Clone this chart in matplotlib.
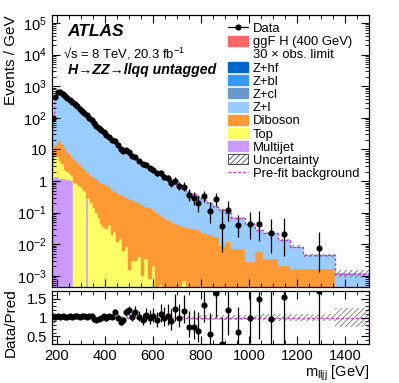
import numpy as np
import matplotlib
matplotlib.use("Agg")
import matplotlib.pyplot as plt
from matplotlib.patches import Patch
from matplotlib.lines import Line2D
from matplotlib.ticker import MultipleLocator, FixedLocator, FuncFormatter, LogLocator, NullFormatter

plt.rcParams['font.family'] = ['Liberation Sans', 'DejaVu Sans']
plt.rcParams['mathtext.fontset'] = 'custom'
plt.rcParams['mathtext.rm'] = 'Liberation Sans'
plt.rcParams['mathtext.it'] = 'Liberation Sans:italic'
plt.rcParams['mathtext.bf'] = 'Liberation Sans:bold'
plt.rcParams['hatch.linewidth'] = 0.5

# ---------------- data (events / GeV) ----------------
bin_edges = [180, 190, 200, 210, 220, 230, 240, 250, 260, 270, 280, 290, 300, 310, 320, 330,
             340, 350, 360, 370, 380, 390, 400, 412, 424, 436, 448, 460, 472, 484, 496, 508,
             520, 535, 550, 565, 580, 595, 610, 625, 640, 655, 670, 685, 700, 720, 740, 760,
             780, 800, 825, 850, 875, 900, 925, 985, 1025, 1060, 1120, 1170, 1225, 1360, 1500]

total_bkg = [92, 440, 630, 640, 560, 480, 410, 350, 300, 258,
             222, 190, 162, 138, 117, 99, 84, 71, 60, 50,
             42, 35, 29, 24, 20, 16.5, 13.7, 11.5, 9.7, 8.2,
             7.0, 6.0, 5.1, 4.3, 3.6, 3.05, 2.6, 2.2, 1.87, 1.6,
             1.36, 1.16, 0.99, 0.85, 0.70, 0.57, 0.47, 0.39, 0.32, 0.25,
             0.20, 0.16, 0.125, 0.10, 0.068, 0.045, 0.029, 0.023, 0.014, 0.0085,
             0.0045, 0.0012]

diboson = [4.0, 8.0, 11.0, 14.0, 11.5, 8.8, 6.6, 5.3, 4.3, 3.9,
           3.2, 2.7, 2.2, 1.9, 1.7, 1.45, 1.3, 1.16, 1.05, 0.93,
           0.85, 0.76, 0.7, 0.6, 0.52, 0.45, 0.4, 0.36, 0.32, 0.29,
           0.27, 0.24, 0.22, 0.2, 0.17, 0.15, 0.14, 0.12, 0.1, 0.085,
           0.07, 0.058, 0.05, 0.045, 0.04, 0.035, 0.033, 0.03, 0.028, 0.022,
           0.019, 0.017, 0.009, 0.012, 0.007, 0.0028, 0.0055, 0.0035, 0.002, 0.0016,
           0.0017, 0.0]

top = [3.0, 4.8, 4.5, 3.0, 2.2, 1.0, 0.8, 0.6, 0.45, 0.9,
       0.8, 0.7, 0.6, 0.5, 0.0, 0.3, 0.2, 0.14, 0.1, 0.07,
       0.045, 0.035, 0.03, 0.04, 0.02, 0.025, 0.012, 0.015, 0.006, 0.008,
       0.0015, 0.003, 0.003, 0.004, 0.001, 0.0035, 0.0008, 0.002, 0.0, 0.0005,
       0.0, 0.0, 0.0, 0.0, 0.0, 0.0007, 0.0, 0.0, 0.0, 0.0,
       0.0, 0.0, 0.0, 0.0, 0.0, 0.0, 0.0, 0.0, 0.0, 0.0,
       0.0, 0.0]

multijet = [1.0, 1.3, 1.3, 1.2, 1.2, 1.2, 1.1, 1.1, 1.0, 0.0,
            0.0, 0.0, 0.0, 0.0, 0.28, 0.0, 0.0, 0.0, 0.0, 0.0,
            0.0, 0.0, 0.0, 0.0, 0.0, 0.0, 0.0, 0.0, 0.0, 0.0,
            0.0, 0.0, 0.0, 0.0, 0.0, 0.0, 0.0, 0.0, 0.0, 0.0,
            0.0, 0.0, 0.0, 0.0, 0.0, 0.0, 0.0, 0.0, 0.0, 0.0,
            0.0, 0.0, 0.0, 0.0, 0.0, 0.0, 0.0, 0.0, 0.0, 0.0,
            0.0, 0.0]

signal = [0, 0, 0, 0, 0, 0, 0, 0, 0, 0,
          0, 0, 0, 0, 0, 0, 0, 0, 0, 0,
          2, 6, 10, 5, 1, 0, 0, 0, 0, 0,
          0, 0, 0, 0, 0, 0, 0, 0, 0, 0,
          0, 0, 0, 0, 0, 0, 0, 0, 0, 0,
          0, 0, 0, 0, 0, 0, 0, 0, 0, 0,
          0, 0]

data = [96.6, 449, 649, 653, 577, 485, 418, 360, 306, 266,
        231, 194, 167, 142, 119, 102, 87.4, 67.5, 56.4, 48,
        42, 36, 29, 24.7, 20.4, 19.0, 13.7, 10.1, 9.0, 9.3,
        8.3, 6.1, 5.9, 4.4, 3.35, 3.26, 2.6, 2.3, 1.74, 1.76,
        1.36, 1.22, 0.89, 1.04, 0.70, 0.67, 0.357, 0.289, 0.205, 0.335,
        0.11, 0.264, 0.0375, 0.12, 0.041, 0.044, 0.0435, 0.022, 0.0217, 0,
        0.0076, 0]

rel_unc = [0.03, 0.02, 0.02, 0.02, 0.02, 0.02, 0.02, 0.02, 0.02, 0.02,
           0.02, 0.02, 0.02, 0.02, 0.02, 0.02, 0.02, 0.02, 0.02, 0.02,
           0.02, 0.02, 0.02, 0.025, 0.025, 0.025, 0.03, 0.03, 0.03, 0.03,
           0.03, 0.03, 0.035, 0.035, 0.035, 0.035, 0.04, 0.04, 0.04, 0.04,
           0.04, 0.045, 0.045, 0.045, 0.045, 0.05, 0.05, 0.05, 0.055, 0.055,
           0.055, 0.06, 0.06, 0.065, 0.07, 0.075, 0.075, 0.08, 0.085, 0.09,
           0.10, 0.26]

prefit_ratio = [0.88, 0.96, 0.98, 0.98, 0.98, 0.985, 0.985, 0.98, 0.98, 0.98,
                0.98, 0.98, 0.985, 0.985, 0.98, 0.98, 0.98, 0.98, 0.985, 0.985,
                0.98, 0.98, 0.98, 0.98, 0.985, 0.985, 0.98, 0.98, 0.98, 0.98,
                0.985, 0.985, 0.98, 0.98, 0.98, 0.98, 0.985, 0.985, 0.98, 0.98,
                0.98, 0.98, 0.985, 0.985, 0.98, 0.98, 0.98, 0.98, 0.985, 0.985,
                0.98, 0.98, 0.98, 0.98, 0.985, 0.985, 0.98, 0.98, 0.98, 0.985,
                0.985, 0.985]

# ---------------- derived ----------------
edges = np.array(bin_edges, float)
widths = np.diff(edges)
centers = 0.5 * (edges[:-1] + edges[1:])
tot = np.array(total_bkg, float)
mj = np.array(multijet, float)
tp = np.array(top, float)
db = np.array(diboson, float)
zl = tot - mj - tp - db
sig = np.array(signal, float)
dat = np.array(data, float)
unc = np.array(rel_unc, float)
pre = tot * np.array(prefit_ratio, float)

C_ZHF = '#0066cc'; C_ZBL = '#3399ff'; C_ZCL = '#6699cc'; C_ZL = '#99ccff'
C_DB = '#ff9933'; C_TOP = '#ffff66'; C_MJ = '#cc99ff'; C_SIG = '#ff6666'
C_PRE = '#cc33cc'

fig = plt.figure(figsize=(3.99, 3.83), dpi=100)
ax = fig.add_axes([0.130, 0.251, 0.795, 0.710])
rax = fig.add_axes([0.130, 0.102, 0.795, 0.138])

base = np.full(len(tot), 1e-7)
for vals, c in [(mj, C_MJ), (tp, C_TOP), (db, C_DB), (zl, C_ZL)]:
    upper = base + vals
    ax.stairs(upper, edges, baseline=base, fill=True, facecolor=c, edgecolor=c, lw=0.3)
    base = upper
ax.stairs(tot + sig, edges, baseline=tot, fill=True, facecolor=C_SIG, lw=0)

ax.stairs(tot * (1 + unc), edges, baseline=tot * (1 - unc), fill=True,
          facecolor='none', edgecolor='#666666', hatch='//////', lw=0)
ax.stairs(pre, edges, color=C_PRE, ls=(0, (2, 1.5)), lw=1.0)

# Poisson (Garwood) errors
m = dat > 0
N = dat[m] * widths[m]
n_up = (N + 1) * (1 - 1 / (9 * (N + 1)) + 1 / (3 * np.sqrt(N + 1))) ** 3
n_lo = N * (1 - 1 / (9 * N) - 1 / (3 * np.sqrt(N))) ** 3
e_up = (n_up - N) / widths[m]
e_lo = (N - n_lo) / widths[m]
ax.errorbar(centers[m], dat[m], yerr=[e_lo, e_up], fmt='o', color='k', ms=3.4,
            lw=0.9, capsize=0, zorder=5)

ax.set_yscale('log')
ax.set_xlim(180, 1500)
ax.set_ylim(4.5e-4, 1.8e5)

def yfmt(v, pos):
    e = int(round(np.log10(v)))
    if e == 0:
        return '1'
    if e == 1:
        return '10'
    return r'$10^{%d}$' % e

ax.yaxis.set_major_locator(LogLocator(base=10, numticks=20))
ax.yaxis.set_minor_locator(LogLocator(base=10, subs=np.arange(2, 10), numticks=20))
ax.yaxis.set_major_formatter(FuncFormatter(yfmt))
ax.yaxis.set_minor_formatter(NullFormatter())

for a in (ax, rax):
    a.xaxis.set_major_locator(MultipleLocator(200))
    a.xaxis.set_minor_locator(MultipleLocator(50))
    a.tick_params(which='both', direction='in', top=True, right=True, labelsize=10.5)
    a.tick_params(which='major', length=6, width=0.8)
    a.tick_params(which='minor', length=3, width=0.6)
    for s in a.spines.values():
        s.set_linewidth(0.9)
ax.tick_params(labelbottom=False)

ax.set_ylabel('Events / GeV', fontsize=11, loc='top')
ax.yaxis.set_label_coords(-0.107, 1.0)

# texts
ax.text(0.05, 0.923, 'ATLAS', transform=ax.transAxes, fontsize=12.5,
        fontweight='bold', fontstyle='italic')
ax.text(0.035, 0.838, '\u221as = 8 TeV, 20.3 fb$^{-1}$', transform=ax.transAxes, fontsize=9.4)
ax.text(0.05, 0.783, 'H\u2192ZZ\u2192llqq untagged', transform=ax.transAxes, fontsize=10.2,
        fontweight='bold', fontstyle='italic')

handles = [
    Line2D([], [], color='k', marker='o', ms=3.4, lw=0.9),
    Patch(facecolor=C_SIG, edgecolor=C_SIG),
    Patch(facecolor='none', edgecolor='none'),
    Patch(facecolor=C_ZHF, edgecolor=C_ZHF),
    Patch(facecolor=C_ZBL, edgecolor=C_ZBL),
    Patch(facecolor=C_ZCL, edgecolor=C_ZCL),
    Patch(facecolor=C_ZL, edgecolor=C_ZL),
    Patch(facecolor=C_DB, edgecolor=C_DB),
    Patch(facecolor=C_TOP, edgecolor=C_TOP),
    Patch(facecolor=C_MJ, edgecolor=C_MJ),
    Patch(facecolor='white', edgecolor='#333333', hatch='//////', lw=0.6),
    Line2D([], [], color=C_PRE, ls=(0, (2, 1.5)), lw=1.0),
]
labels = ['Data', 'ggF H (400 GeV)', '30 \u00d7 obs. limit', 'Z+hf', 'Z+bl', 'Z+cl', 'Z+l',
          'Diboson', 'Top', 'Multijet', 'Uncertainty', 'Pre-fit background']
ax.legend(handles, labels, loc='upper left', bbox_to_anchor=(0.555, 0.972), frameon=False,
          fontsize=9.4, handlelength=1.55, handleheight=0.8, handletextpad=0.35,
          labelspacing=0.05, borderaxespad=0, borderpad=0)

# ratio panel
r = dat[m] / tot[m]
rax.stairs(1 + unc, edges, baseline=1 - unc, fill=True, facecolor='none',
           edgecolor='#666666', hatch='//////', lw=0)
rax.stairs(np.array(prefit_ratio), edges, color=C_PRE, ls=(0, (2, 1.5)), lw=1.0)
rax.errorbar(centers[m], r, yerr=[e_lo / tot[m], e_up / tot[m]], fmt='o', color='k',
             ms=3.4, lw=0.9, capsize=0, zorder=5)
rax.set_xlim(180, 1500)
rax.set_ylim(0.3, 1.7)
rax.yaxis.set_major_locator(FixedLocator([0.5, 1.0, 1.5]))
rax.yaxis.set_major_formatter(FuncFormatter(lambda v, p: '%g' % v))
rax.yaxis.set_minor_locator(MultipleLocator(0.1))
rax.set_ylabel('Data/Pred', fontsize=11)
rax.yaxis.set_label_coords(-0.107, 0.4)
rax.set_xlabel(r'm$_{\mathrm{lljj}}$ [GeV]', fontsize=10.5, loc='right', labelpad=1)

fig.savefig('out.png', dpi=100)
